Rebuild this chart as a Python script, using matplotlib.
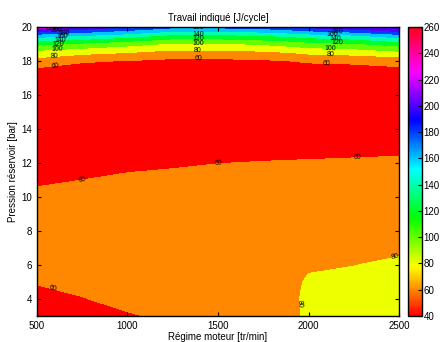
import numpy as np
import matplotlib
matplotlib.use("Agg")
import matplotlib.pyplot as plt
from matplotlib.colors import Normalize
from matplotlib.cm import ScalarMappable

plt.rcParams['font.family'] = ['Liberation Sans', 'DejaVu Sans']

# régime moteur [tr/min] (colonnes) et pression réservoir [bar] (lignes)
regime = [500, 750, 1000, 1250, 1500, 1750, 1900, 2000, 2250, 2500]
pression = [3, 4, 5, 6, 7, 8, 10, 12, 14, 16, 17, 17.5, 18, 18.5, 19, 19.5, 20]

travail = [
    [52, 55, 58, 64, 66, 70, 76, 83, 84, 85],
    [55, 59, 66, 68, 70, 72, 77, 83, 84, 85],
    [61, 66, 69, 70, 72, 74, 76, 82, 83, 84],
    [66, 69, 71, 72, 73, 74, 75, 78, 79.8, 82],
    [68, 70, 72, 73, 74, 74, 75, 76, 77, 78],
    [68, 70, 72, 73, 73, 74, 74, 75, 75, 76],
    [63, 66, 70, 70, 70, 71, 71, 71, 72, 72],
    [53, 54, 56, 58, 59.8, 60.5, 60.8, 61, 61.5, 62],
    [46, 47, 48, 49, 50, 50.5, 51, 51, 51.5, 52],
    [44, 45, 45, 45, 46, 46, 46, 46, 47, 47],
    [50, 48, 47, 46, 47, 47, 48, 48, 49, 51],
    [57, 52, 50, 50, 50, 51, 52, 53, 53, 57],
    [72, 62, 59, 55, 55, 57, 60, 62, 64, 66],
    [92, 85, 80, 73, 73, 76, 80, 84, 87, 95],
    [124, 115, 106, 97, 97, 102, 107, 112, 117, 128],
    [170, 160, 150, 135, 135, 140, 145, 150, 157, 172],
    [235, 215, 200, 185, 185, 190, 198, 205, 215, 230],
]

niveaux = list(range(40, 261, 20))

# positions des étiquettes de contour
etiquettes = [
    (580, 19.88), (610, 19.75), (650, 19.58), (640, 19.4), (630, 19.17),
    (620, 18.94), (610, 18.65), (600, 18.22), (600, 17.75),
    (1390, 19.86), (1390, 19.57), (1390, 19.37), (1390, 19.04),
    (1390, 18.65), (1390, 18.16),
    (2160, 19.75), (2130, 19.55), (2150, 19.35), (2160, 19.08),
    (2120, 18.75), (2120, 18.39), (2100, 17.88),
    (750, 11.0), (1500, 12.0), (2270, 12.3),
    (590, 4.8), (1960, 3.7), (2480, 6.5),
]

X, Y = np.meshgrid(regime, pression)
Z = np.array(travail)

cmap = plt.get_cmap('hsv')
norm = Normalize(40, 260)
couleurs = [cmap(norm(l)) for l in niveaux[:-1]]

fig = plt.figure(figsize=(4.4, 3.42), dpi=100)
ax = fig.add_axes([0.084, 0.076, 0.823, 0.845])
cax = fig.add_axes([0.928, 0.076, 0.031, 0.845])

ax.contourf(X, Y, Z, levels=niveaux, colors=couleurs)
cs = ax.contour(X, Y, Z, levels=niveaux, colors='k', linewidths=0)
ax.clabel(cs, manual=etiquettes, inline=False, fontsize=5, fmt='%d', colors='k')

ax.set_xlim(500, 2500)
ax.set_ylim(3, 20)
ax.set_xticks([500, 1000, 1500, 2000, 2500])
ax.set_yticks(range(4, 21, 2))
ax.tick_params(direction='in', top=True, right=True, length=3, labelsize=7, width=0.8)
for s in ax.spines.values():
    s.set_linewidth(1.0)
ax.set_title("Travail indiqué [J/cycle]", fontsize=7, pad=4)
ax.set_xlabel("Régime moteur [tr/min]", fontsize=7, labelpad=1)
ax.set_ylabel("Pression réservoir [bar]", fontsize=7, labelpad=2)

cb = fig.colorbar(ScalarMappable(norm=norm, cmap=cmap), cax=cax, ticks=niveaux)
cb.ax.tick_params(direction='in', length=3, labelsize=7, width=0.8, pad=1)
cb.outline.set_linewidth(1.0)

fig.savefig("out.png", dpi=100)
